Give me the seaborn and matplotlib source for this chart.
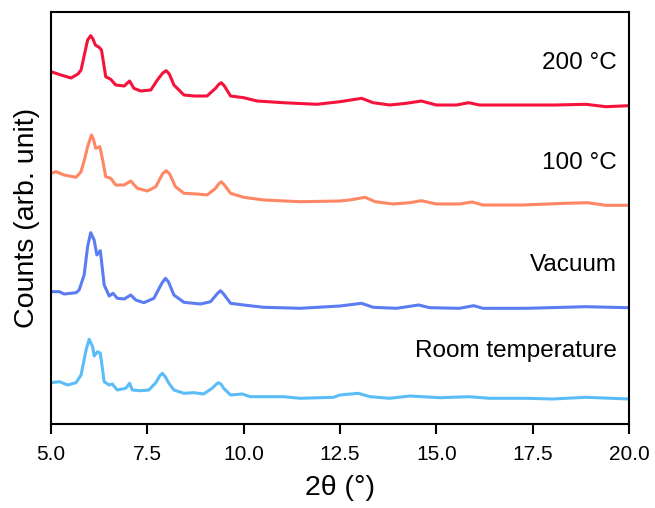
import numpy as np
import pandas as pd
import seaborn as sns
import matplotlib
matplotlib.use("Agg")
from matplotlib import pyplot as plt

# XRD patterns, values (arb. units, already stacked)
theta_200 = [5.0, 5.26, 5.52, 5.70, 5.78, 5.87, 5.95, 6.03, 6.09, 6.15, 6.25, 6.31, 6.36, 6.42,
             6.55, 6.68, 6.90, 7.04, 7.15, 7.33, 7.59, 7.76, 7.90, 7.99, 8.07, 8.19, 8.45, 8.71,
             9.05, 9.27, 9.35, 9.42, 9.50, 9.66, 10.0, 10.35, 11.03, 11.9, 12.5, 13.06, 13.36,
             13.79, 14.22, 14.61, 15.0, 15.52, 15.84, 16.12, 16.98, 18.10, 18.88, 19.40, 20.0]
counts_200 = [352.3, 349, 346, 350, 354, 370, 384, 388.3, 385, 379, 376.7, 374, 362, 347.3,
              344.7, 339, 338, 343, 335.7, 333, 334, 344, 351, 353.3, 350, 339, 329, 328,
              328, 335.7, 339.5, 341.3, 338, 328, 326.3, 323, 321.3, 319.7, 322.3, 325.7, 321.3,
              319, 320.7, 323, 319, 319, 321.3, 319, 319, 319, 319.7, 317.3, 318.3]

theta_100 = [5.0, 5.13, 5.34, 5.65, 5.78, 5.88, 5.95, 6.05, 6.10, 6.16, 6.27, 6.35, 6.42, 6.55,
             6.68, 6.90, 7.07, 7.24, 7.50, 7.72, 7.90, 7.99, 8.08, 8.23, 8.45, 8.79, 9.05, 9.27,
             9.35, 9.42, 9.50, 9.66, 10.0, 10.52, 11.47, 12.5, 12.75, 13.15, 13.41, 13.88, 14.31,
             14.61, 15.0, 15.6, 15.93, 16.21, 17.24, 18.36, 18.92, 19.40, 20.0]
counts_100 = [250.7, 252.3, 249, 246.7, 252.3, 266, 277.3, 289, 285, 275.7, 277.3, 262, 247.3, 245.7,
              239, 239, 243, 235.7, 233, 237.3, 250.5, 253.3, 250, 237.3, 230.7, 230, 229, 235.7,
              240, 242.3, 239, 230.7, 226.7, 224, 222.3, 223, 224, 226.7, 222.3, 220, 221.3,
              223.3, 220, 220, 222, 219, 219, 220.7, 221.3, 218.7, 218.7]

theta_vac = [5.0, 5.22, 5.34, 5.65, 5.73, 5.86, 5.95, 6.03, 6.12, 6.19, 6.28, 6.38, 6.51, 6.61,
             6.72, 6.90, 7.07, 7.20, 7.41, 7.67, 7.88, 7.97, 8.05, 8.19, 8.45, 8.88, 9.14, 9.33,
             9.40, 9.48, 9.66, 10.0, 10.52, 11.47, 12.5, 13.06, 13.36, 13.97, 14.54, 14.83, 15.6,
             15.97, 16.21, 17.33, 18.88, 20.0]
counts_vac = [132.3, 132.3, 130, 131.3, 134, 149, 177.3, 191.3, 184, 169, 173.3, 139, 128, 130.7,
              125.7, 125, 129, 124, 121.3, 125.7, 141, 145.7, 142, 129, 121.7, 120, 122.3, 131,
              133.3, 130, 120.7, 119, 116.7, 115.7, 118, 120.7, 116.7, 115.7, 119, 116.3, 115.7,
              118.3, 115.7, 115.7, 117.3, 116.3]

theta_rt = [5.0, 5.22, 5.43, 5.65, 5.78, 5.91, 5.99, 6.08, 6.12, 6.21, 6.28, 6.38, 6.51, 6.59,
            6.72, 6.94, 7.04, 7.11, 7.33, 7.54, 7.72, 7.82, 7.89, 7.97, 8.06, 8.19, 8.45, 8.71,
            8.96, 9.18, 9.28, 9.34, 9.41, 9.48, 9.66, 9.96, 10.17, 11.03, 11.47, 12.33, 12.5,
            12.97, 13.28, 13.79, 14.31, 15.09, 15.86, 16.38, 17.33, 18.02, 18.88, 20.0]
counts_rt = [41.3, 42.3, 39, 41.3, 49, 74, 84.7, 77.3, 68, 72.3, 70.7, 42.3, 39, 40,
             34, 35.7, 40.7, 34, 33.3, 34, 41.3, 48, 50.7, 47, 40.7, 34, 30.7, 31.3,
             30, 35.7, 39.5, 41.3, 40, 35.7, 29, 30, 27.3, 27.3, 25.7, 26.7, 29,
             30.7, 27.3, 25.7, 28, 26.3, 27.3, 25.7, 25.7, 25, 26.7, 25]

samples = ["200 °C", "100 °C", "Vacuum", "Room temperature"]
colors = ["#f5123b", "#ff8763", "#5b7cf2", "#5bbdf8"]

frames = []
for name, t, c in zip(samples, [theta_200, theta_100, theta_vac, theta_rt],
                      [counts_200, counts_100, counts_vac, counts_rt]):
    frames.append(pd.DataFrame({"theta": t, "counts": c, "sample": name}))
df = pd.concat(frames, ignore_index=True)

sns.set_style("ticks")
plt.rcParams["font.family"] = ["Liberation Sans", "DejaVu Sans"]

fig = plt.figure(figsize=(6.55, 5.08), dpi=100)
ax = fig.add_axes([51 / 655, 84 / 508, 578 / 655, 412 / 508])
sns.lineplot(data=df, x="theta", y="counts", hue="sample", palette=colors,
             estimator=None, sort=False, linewidth=2.2, legend=False, ax=ax)

# label each curve at the right
label_y = [360.7, 261.3, 159, 73.3]
for name, yy in zip(samples, label_y):
    ax.text(19.69, yy, name, ha="right", va="center", fontsize=17.5, color="black")

ax.set_xlim(5, 20)
ax.set_ylim(0, 412)
ax.set_xticks([5.0, 7.5, 10.0, 12.5, 15.0, 17.5, 20.0])
ax.set_xticklabels(["5.0", "7.5", "10.0", "12.5", "15.0", "17.5", "20.0"])
ax.set_yticks([])
ax.tick_params(axis="x", direction="out", length=7, width=1.5, labelsize=15, pad=8,
               colors="black")
for s in ax.spines.values():
    s.set_linewidth(1.5)
    s.set_color("black")
ax.set_xlabel("2θ (°)", fontsize=20.5, labelpad=8, color="black")
ax.set_ylabel("Counts (arb. unit)", fontsize=20.5, labelpad=8, color="black")

fig.savefig("out.png", dpi=100)
